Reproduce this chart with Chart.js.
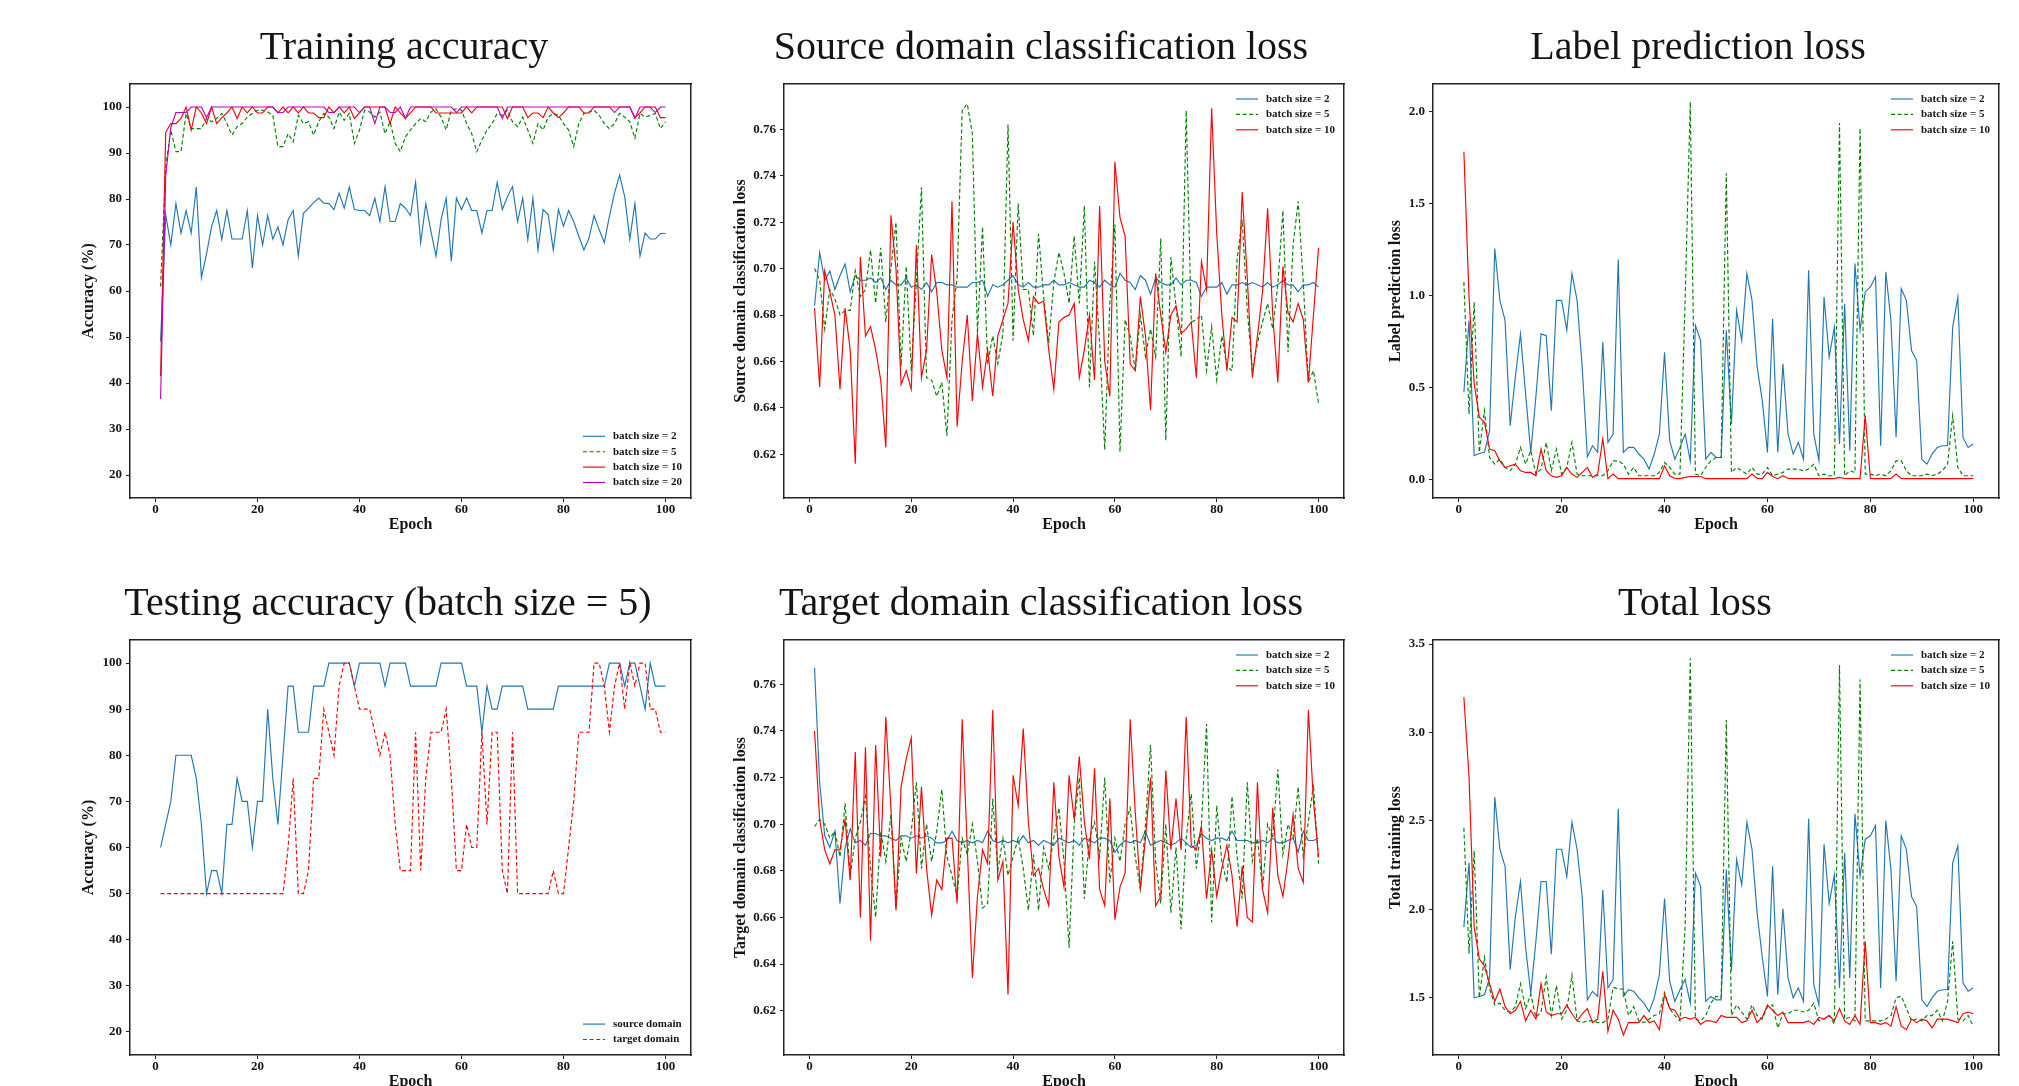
<!DOCTYPE html>
<html><head><meta charset="utf-8">
<script src="https://cdn.jsdelivr.net/npm/chart.js@4.4.0/dist/chart.umd.min.js"></script>
<style>
html,body{margin:0;padding:0;background:#fff;overflow:hidden;width:2019px;height:1086px;}
canvas{position:absolute;}
</style></head><body>
<canvas id="c1"></canvas><canvas id="c2"></canvas><canvas id="c3"></canvas>
<canvas id="c4"></canvas><canvas id="c5"></canvas><canvas id="c6"></canvas>
<script>
const EPOCHS = Array.from({length: 100}, (_, i) => i + 1);
const X_TICKS = [0, 20, 40, 60, 80, 100];
const ACC_TICKS = [20, 30, 40, 50, 60, 70, 80, 90, 100];
const DOM_TICKS = [0.62, 0.64, 0.66, 0.68, 0.70, 0.72, 0.74, 0.76];
const LP_TICKS = [0.0, 0.5, 1.0, 1.5, 2.0];
const TL_TICKS = [1.5, 2.0, 2.5, 3.0, 3.5];
const LABELS_BS = ['batch size = 2', 'batch size = 5', 'batch size = 10', 'batch size = 20'];
const LABELS_DOM = ['source domain', 'target domain'];

// Training accuracy
const TA_B2 = [49,76.6,70,79,72.6,77.5,72.6,82.6,62.9,68,
 74,77.5,71.2,77.5,71.3,71.3,71.3,77.5,65,76.4,
 70,76.4,71.3,73.9,70,75.5,77.5,67.6,76.9,78,
 79.2,80.2,79.1,79,77.7,81.3,78,82.6,77.7,77.5,
 77.5,76.4,80.2,75.1,82.6,75.1,75.1,79,78,76.4,
 83.6,70.5,79,73,67.6,75.5,80.2,66.5,80.2,77.7,
 80.2,77.5,77.5,72.6,77.5,77.5,83.6,77.7,80.5,82.7,
 75.1,80.2,71.2,80.2,68.9,77.7,76.6,68.9,77.7,74.1,
 77.5,75.1,71.9,68.9,71.5,76.4,73.3,70.5,76.2,81.3,
 85.2,80.5,71.3,79,67.6,72.6,71.3,71.3,72.5,72.5];
const TA_B5 = [61,87,95,90.3,90.3,98.6,95.3,95.3,95.3,97.5,
 96.8,97.5,98.6,96.4,93.9,95.7,96.4,97.8,98.6,99.3,
 99.3,98.9,98.2,91.4,91.4,94.2,92.4,98.2,96.4,96.8,
 93.9,96.8,98.6,97.8,95.3,98.9,97.1,98.6,92.1,95,
 99.3,98.9,97.8,98.9,94.2,96.8,92.1,90.3,93.5,95,
 96.4,97.5,96.8,98.9,99.6,97.8,95,99.3,99.6,99.3,
 96.4,94.2,90.3,92.8,95,96.4,98.6,98.2,99.3,96.8,
 95.7,97.8,95,92.1,96.4,95,97.8,98.6,98.2,96.4,
 95,91.4,96.4,98.6,98.9,99.3,98.2,96.4,95.3,96.4,
 98.6,97.8,96.8,93.2,98.6,97.8,98.2,98.6,95.3,96.8];
const TA_B10 = [41.5,94.5,96.4,96.4,97.5,100,95,100,98.7,96.4,
 100,96.4,97.7,98.7,100,97.5,100,98.7,100,98.7,
 98.7,100,100,98.7,100,98.7,100,98.7,100,98.7,
 98.7,97.7,97.7,100,98.7,100,98.7,100,97.5,98.7,
 100,100,100,100,100,96.4,100,98.7,97.5,98.7,
 100,100,100,100,98.7,98.7,98.7,98.7,98.7,98.7,
 100,98.7,100,100,100,100,100,100,97.5,100,
 100,100,97.7,98.7,98.7,97.7,100,98.7,97.7,98.7,
 100,100,100,98.7,98.7,100,100,100,100,100,
 100,100,100,97.7,98.7,100,100,100,97.7,97.7];
const TA_B20 = [36.5,85,95.5,98.8,98.8,98.8,100,100,100,97.7,
 100,100,100,100,100,100,100,100,100,100,
 100,100,100,98.8,98.8,100,100,100,100,100,
 100,100,100,98.8,98.8,100,100,100,100,98.8,
 100,100,96.4,100,100,98.8,98.8,100,97.5,100,
 100,100,100,100,100,100,100,100,98.8,100,
 100,100,100,100,100,100,100,97.5,100,100,
 100,100,100,100,100,100,100,100,100,100,
 100,100,100,100,100,100,100,100,100,98.8,
 100,100,100,97.5,100,100,100,98.8,100,100];

// Source domain classification loss
const SD_B2 = [0.684,0.707,0.695,0.699,0.691,0.697,0.702,0.690,0.697,0.695,
 0.695,0.696,0.694,0.696,0.691,0.695,0.693,0.693,0.696,0.692,
 0.693,0.691,0.694,0.690,0.694,0.694,0.693,0.693,0.692,0.692,
 0.692,0.694,0.694,0.695,0.688,0.693,0.692,0.693,0.695,0.697,
 0.693,0.692,0.694,0.692,0.692,0.693,0.693,0.695,0.693,0.693,
 0.694,0.693,0.692,0.692,0.695,0.694,0.692,0.695,0.693,0.692,
 0.698,0.695,0.694,0.691,0.697,0.695,0.689,0.696,0.694,0.693,
 0.693,0.696,0.693,0.695,0.695,0.694,0.688,0.692,0.692,0.692,
 0.694,0.689,0.693,0.693,0.694,0.693,0.694,0.693,0.692,0.694,
 0.692,0.693,0.695,0.693,0.693,0.690,0.693,0.693,0.694,0.692];
const SD_B5 = [0.700,0.695,0.674,0.691,0.687,0.680,0.682,0.682,0.699,0.688,
 0.691,0.708,0.685,0.709,0.677,0.700,0.720,0.658,0.701,0.656,
 0.694,0.735,0.653,0.652,0.645,0.651,0.628,0.678,0.696,0.768,
 0.771,0.758,0.672,0.718,0.659,0.671,0.659,0.672,0.762,0.669,
 0.728,0.691,0.691,0.671,0.715,0.688,0.668,0.694,0.707,0.698,
 0.685,0.714,0.685,0.727,0.649,0.703,0.668,0.622,0.685,0.719,
 0.621,0.678,0.671,0.656,0.680,0.662,0.674,0.662,0.713,0.626,
 0.705,0.684,0.662,0.768,0.677,0.678,0.680,0.656,0.675,0.652,
 0.671,0.658,0.656,0.704,0.721,0.682,0.656,0.668,0.677,0.685,
 0.674,0.693,0.725,0.664,0.710,0.729,0.694,0.651,0.656,0.642];
const SD_B10 = [0.683,0.649,0.699,0.690,0.680,0.648,0.683,0.665,0.616,0.705,
 0.671,0.675,0.665,0.652,0.623,0.723,0.700,0.650,0.656,0.648,
 0.710,0.653,0.665,0.706,0.690,0.665,0.653,0.729,0.632,0.660,
 0.680,0.643,0.672,0.649,0.665,0.645,0.671,0.678,0.685,0.720,
 0.691,0.678,0.669,0.688,0.685,0.686,0.665,0.648,0.677,0.679,
 0.680,0.685,0.653,0.665,0.680,0.652,0.727,0.660,0.645,0.746,
 0.722,0.714,0.659,0.656,0.688,0.671,0.639,0.698,0.680,0.664,
 0.680,0.684,0.672,0.674,0.677,0.653,0.703,0.691,0.769,0.715,
 0.680,0.656,0.679,0.677,0.733,0.696,0.653,0.671,0.690,0.726,
 0.680,0.651,0.701,0.681,0.677,0.685,0.678,0.651,0.680,0.709];

// Label prediction loss
const LP_B2 = [0.473,0.863,0.128,0.140,0.146,0.264,1.254,0.972,0.863,0.291,
 0.555,0.790,0.464,0.146,0.450,0.790,0.780,0.373,0.972,0.972,
 0.809,1.118,0.972,0.609,0.122,0.182,0.146,0.745,0.200,0.246,
 1.194,0.146,0.173,0.173,0.137,0.109,0.055,0.137,0.246,0.690,
 0.210,0.109,0.173,0.246,0.100,0.836,0.754,0.109,0.146,0.118,
 0.118,0.809,0.300,0.918,0.754,1.118,0.972,0.609,0.427,0.146,
 0.872,0.146,0.627,0.246,0.137,0.200,0.109,1.136,0.246,0.100,
 0.990,0.664,0.827,0.191,0.954,0.155,1.172,0.809,1.018,1.045,
 1.100,0.182,1.127,0.863,0.230,1.036,0.972,0.699,0.645,0.109,
 0.082,0.137,0.173,0.182,0.182,0.827,0.990,0.227,0.173,0.191];
const LP_B5 = [1.072,0.355,0.963,0.146,0.373,0.118,0.082,0.110,0.064,0.046,
 0.082,0.173,0.082,0.155,0.028,0.055,0.200,0.046,0.164,0.028,
 0.064,0.200,0.028,0.019,0.019,0.019,0.019,0.019,0.046,0.100,
 0.100,0.082,0.028,0.064,0.019,0.019,0.019,0.019,0.037,0.091,
 0.064,0.028,0.028,0.972,2.050,0.028,0.019,0.064,0.100,0.118,
 0.118,1.663,0.037,0.064,0.046,0.028,0.064,0.028,0.028,0.064,
 0.019,0.028,0.037,0.055,0.055,0.055,0.046,0.055,0.082,0.019,
 0.028,0.019,0.019,1.936,0.019,0.046,0.037,1.908,0.028,0.028,
 0.019,0.028,0.019,0.046,0.100,0.100,0.046,0.019,0.019,0.019,
 0.028,0.019,0.028,0.046,0.082,0.346,0.064,0.019,0.019,0.019];
const LP_B10 = [1.780,0.990,0.520,0.337,0.310,0.164,0.155,0.100,0.064,0.073,
 0.082,0.046,0.037,0.037,0.019,0.164,0.046,0.019,0.010,0.019,
 0.064,0.028,0.010,0.037,0.064,0.010,0.028,0.219,0.003,0.028,
 0.003,0.004,0.003,0.004,0.003,0.004,0.003,0.004,0.003,0.073,
 0.019,0.004,0.003,0.010,0.015,0.015,0.015,0.003,0.004,0.003,
 0.004,0.003,0.004,0.003,0.004,0.003,0.028,0.004,0.003,0.037,
 0.015,0.003,0.019,0.004,0.003,0.004,0.003,0.004,0.003,0.004,
 0.003,0.004,0.003,0.010,0.004,0.003,0.004,0.003,0.346,0.004,
 0.003,0.004,0.003,0.004,0.028,0.004,0.003,0.004,0.003,0.004,
 0.003,0.004,0.003,0.004,0.003,0.004,0.003,0.004,0.003,0.004];

// Testing accuracy (batch size = 5)
const TE_SRC = [60,65,70,80,80,80,80,75,65,50,
 55,55,50,65,65,75,70,70,60,70,
 70,90,75,65,80,95,95,85,85,85,
 95,95,95,100,100,100,100,100,95,100,
 100,100,100,100,95,100,100,100,100,95,
 95,95,95,95,95,100,100,100,100,100,
 95,95,95,85,95,90,90,95,95,95,
 95,95,90,90,90,90,90,90,95,95,
 95,95,95,95,95,95,95,95,100,100,
 100,95,100,100,95,90,100,95,95,95];
const TE_TGT = [50,50,50,50,50,50,50,50,50,50,
 50,50,50,50,50,50,50,50,50,50,
 50,50,50,50,50,60,75,50,50,55,
 75,75,90,85,80,95,100,100,95,90,
 90,90,85,80,85,80,65,55,55,55,
 85,55,75,85,85,85,90,75,55,55,
 65,60,60,85,65,85,85,55,50,85,
 50,50,50,50,50,50,50,55,50,50,
 60,70,85,85,85,100,100,95,85,95,
 100,90,100,95,100,100,90,90,85,85];

// Target domain classification loss
const TD_B2 = [0.767,0.718,0.695,0.690,0.697,0.666,0.690,0.698,0.692,0.693,
 0.691,0.696,0.696,0.695,0.695,0.694,0.693,0.695,0.695,0.694,
 0.695,0.694,0.695,0.694,0.692,0.692,0.693,0.697,0.693,0.692,
 0.693,0.692,0.693,0.692,0.697,0.693,0.692,0.693,0.692,0.693,
 0.692,0.695,0.692,0.693,0.691,0.693,0.692,0.691,0.694,0.693,
 0.692,0.693,0.691,0.694,0.693,0.692,0.694,0.694,0.693,0.688,
 0.691,0.693,0.692,0.693,0.692,0.697,0.691,0.692,0.693,0.692,
 0.691,0.692,0.694,0.692,0.690,0.691,0.696,0.694,0.693,0.694,
 0.694,0.693,0.697,0.693,0.693,0.693,0.692,0.692,0.693,0.692,
 0.694,0.692,0.692,0.693,0.694,0.688,0.697,0.693,0.693,0.694];
const TD_B5 = [0.699,0.702,0.700,0.694,0.697,0.686,0.709,0.678,0.694,0.701,
 0.712,0.681,0.660,0.697,0.684,0.704,0.664,0.694,0.684,0.697,
 0.718,0.681,0.700,0.684,0.697,0.715,0.686,0.678,0.669,0.694,
 0.687,0.700,0.684,0.664,0.666,0.711,0.680,0.694,0.678,0.686,
 0.694,0.681,0.663,0.687,0.663,0.690,0.681,0.694,0.707,0.684,
 0.647,0.700,0.720,0.668,0.694,0.701,0.686,0.720,0.675,0.694,
 0.684,0.700,0.707,0.686,0.672,0.700,0.734,0.684,0.666,0.700,
 0.662,0.690,0.655,0.694,0.713,0.681,0.700,0.743,0.658,0.708,
 0.684,0.675,0.712,0.686,0.668,0.718,0.684,0.694,0.672,0.700,
 0.694,0.7235,0.687,0.700,0.694,0.716,0.686,0.701,0.717,0.683];
const TD_B10 = [0.740,0.702,0.689,0.683,0.689,0.689,0.702,0.676,0.731,0.660,
 0.733,0.650,0.734,0.686,0.746,0.707,0.663,0.716,0.728,0.737,
 0.679,0.716,0.681,0.661,0.676,0.672,0.694,0.694,0.666,0.745,
 0.690,0.634,0.669,0.689,0.683,0.749,0.676,0.684,0.627,0.721,
 0.708,0.741,0.701,0.678,0.681,0.672,0.665,0.718,0.686,0.673,
 0.721,0.702,0.729,0.701,0.685,0.724,0.672,0.665,0.711,0.659,
 0.673,0.679,0.745,0.705,0.672,0.694,0.720,0.665,0.669,0.723,
 0.689,0.711,0.689,0.746,0.691,0.689,0.699,0.668,0.689,0.669,
 0.681,0.691,0.678,0.656,0.682,0.660,0.658,0.718,0.672,0.662,
 0.707,0.678,0.669,0.685,0.704,0.681,0.675,0.749,0.710,0.686];

// Total loss
const TL_B2 = [1.900,2.263,1.500,1.508,1.518,1.613,2.636,2.340,2.244,1.661,
 1.957,2.158,1.785,1.527,1.820,2.158,2.158,1.747,2.340,2.340,
 2.187,2.493,2.340,2.072,1.489,1.537,1.508,2.110,1.556,1.604,
 2.569,1.508,1.546,1.537,1.500,1.470,1.422,1.500,1.632,2.062,
 1.594,1.480,1.546,1.604,1.470,2.206,2.130,1.480,1.508,1.489,
 1.489,2.225,1.652,2.282,2.139,2.493,2.340,1.976,1.728,1.508,
 2.244,1.518,2.005,1.613,1.500,1.556,1.480,2.512,1.575,1.460,
 2.368,2.034,2.196,1.556,2.320,1.613,2.540,2.187,2.397,2.416,
 2.474,1.556,2.502,2.225,1.594,2.416,2.340,2.072,2.015,1.489,
 1.451,1.500,1.537,1.546,1.546,2.263,2.359,1.585,1.537,1.556];
const TL_B5 = [2.46,1.75,2.33,1.50,1.73,1.55,1.46,1.47,1.43,1.42,
 1.45,1.58,1.44,1.52,1.39,1.42,1.62,1.40,1.57,1.38,
 1.43,1.63,1.37,1.36,1.37,1.37,1.36,1.36,1.38,1.56,
 1.55,1.55,1.40,1.45,1.37,1.36,1.38,1.40,1.41,1.53,
 1.44,1.40,1.37,1.90,3.42,1.38,1.37,1.40,1.47,1.51,
 1.50,3.07,1.40,1.46,1.42,1.38,1.46,1.40,1.38,1.45,
 1.46,1.33,1.41,1.41,1.43,1.43,1.42,1.43,1.47,1.37,
 1.38,1.40,1.35,3.38,1.38,1.39,1.37,3.30,1.37,1.37,
 1.37,1.37,1.38,1.40,1.50,1.51,1.44,1.37,1.38,1.37,
 1.40,1.40,1.43,1.37,1.48,1.82,1.38,1.37,1.40,1.34];
const TL_B10 = [3.20,2.75,1.90,1.72,1.68,1.58,1.48,1.55,1.45,1.41,
 1.43,1.48,1.37,1.43,1.38,1.58,1.42,1.40,1.41,1.41,
 1.46,1.41,1.37,1.41,1.44,1.36,1.38,1.65,1.31,1.43,
 1.38,1.29,1.36,1.36,1.36,1.40,1.36,1.37,1.32,1.52,
 1.44,1.43,1.38,1.39,1.38,1.39,1.35,1.37,1.37,1.36,
 1.40,1.39,1.39,1.39,1.36,1.37,1.43,1.36,1.39,1.46,
 1.43,1.40,1.42,1.36,1.36,1.36,1.36,1.37,1.35,1.39,
 1.38,1.40,1.37,1.44,1.37,1.35,1.40,1.35,1.82,1.36,
 1.36,1.35,1.36,1.34,1.45,1.34,1.32,1.38,1.36,1.38,
 1.37,1.33,1.38,1.38,1.38,1.37,1.36,1.41,1.42,1.41];

const C_BLUE = '#1f77b4', C_GREEN = '#008000', C_RED = '#ff0000', C_MAG = '#bf00bf';
const SERIF = '"Liberation Serif", "Times New Roman", serif';
const INK = '#151515';
const DASH = [4, 2.6];

function ds(label, values, color, dashed, order) {
  return {
    label, data: values.map((v, i) => ({x: EPOCHS[i], y: v})),
    borderColor: color, backgroundColor: color, borderWidth: 1.15,
    borderDash: dashed ? DASH : [], pointRadius: 0, pointHoverRadius: 0,
    tension: 0, fill: false, order, xAxisID: 'x', yAxisID: 'y'
  };
}

const insideLegend = {
  id: 'insideLegend',
  afterDatasetsDraw(chart, args, opts) {
    const {ctx, chartArea: a} = chart;
    const list = chart.data.datasets;
    const n = list.length, step = 15.4;
    ctx.save();
    ctx.font = 'bold 11px ' + SERIF;
    ctx.textBaseline = 'middle';
    ctx.textAlign = 'left';
    list.forEach((d, i) => {
      const y = opts.where === 'top' ? a.top + 15 + i * step : a.bottom - 15.5 - (n - 1 - i) * step;
      const x0 = a.right - 108;
      ctx.beginPath();
      ctx.strokeStyle = d.borderColor;
      ctx.lineWidth = d.borderWidth;
      ctx.setLineDash(d.borderDash || []);
      ctx.moveTo(x0, y); ctx.lineTo(x0 + 22, y); ctx.stroke();
      ctx.setLineDash([]);
      ctx.fillStyle = INK;
      ctx.fillText(d.label, a.right - 78, y);
    });
    ctx.restore();
  }
};

function dummyAxis(position, size) {
  return {
    type: 'linear', position, display: true,
    ticks: {display: false}, title: {display: false},
    grid: {display: true, drawOnChartArea: false, drawTicks: false},
    border: {display: true, color: '#222', width: 1.5},
    afterFit: s => { if (position === 'top') s.height = size; else s.width = size; }
  };
}

function makeChart(id, p) {
  const cv = document.getElementById(id);
  cv.width = p.W; cv.height = p.H;
  cv.style.left = p.CL + 'px'; cv.style.top = p.CT + 'px';
  cv.style.width = p.W + 'px'; cv.style.height = p.H + 'px';
  const tickFont = {family: SERIF, size: 13, weight: 'bold', lineHeight: 1};
  const axisTitleFont = {family: SERIF, size: 16, weight: 'bold', lineHeight: 1.2};
  new Chart(cv, {
    type: 'line',
    data: {datasets: p.datasets},
    options: {
      responsive: false, animation: false, devicePixelRatio: 1,
      layout: {padding: 0},
      events: [],
      plugins: {
        legend: {display: false},
        tooltip: {enabled: false},
        title: {display: true, text: p.title, color: INK,
          font: {family: SERIF, size: 40, weight: 'normal', lineHeight: 1.2},
          padding: {top: 24, bottom: 12}},
        insideLegend: {where: p.legendWhere}
      },
      scales: {
        x: {
          type: 'linear', position: 'bottom', min: -5, max: 105, bounds: 'data',
          afterBuildTicks: s => { s.ticks = X_TICKS.map(v => ({value: v})); },
          afterFit: s => { s.height = p.Hx; },
          ticks: {autoSkip: false, maxRotation: 0, padding: 1, color: INK, font: tickFont,
            callback: v => String(v)},
          grid: {display: true, drawOnChartArea: false, drawTicks: true, tickLength: 4, tickWidth: 1, tickColor: '#222'},
          border: {display: true, color: '#222', width: 1.5},
          title: {display: true, text: 'Epoch', color: INK, font: axisTitleFont,
            padding: {top: 0, bottom: p.xTitlePad}}
        },
        y: {
          type: 'linear', position: 'left', min: p.ymin, max: p.ymax, bounds: 'data',
          afterBuildTicks: s => { s.ticks = p.yticks.map(v => ({value: v})); },
          afterFit: s => { s.width = p.Wy; },
          ticks: {autoSkip: false, padding: 4, color: INK, font: tickFont,
            callback: v => Number(v).toFixed(p.dec)},
          grid: {display: true, drawOnChartArea: false, drawTicks: true, tickLength: 4, tickWidth: 1, tickColor: '#222'},
          border: {display: true, color: '#222', width: 1.5},
          title: {display: true, text: p.ylabel, color: INK, font: axisTitleFont,
            padding: {top: 2.4, bottom: 0}}
        },
        x2: dummyAxis('top', 0),
        y2: dummyAxis('right', p.y2w)
      }
    },
    plugins: [insideLegend]
  });
}

const ROW1 = {CT: 0, H: 538, Hx: 40, xTitlePad: 4};
const ROW2 = {CT: 556, H: 539, Hx: 40, xTitlePad: 3.4};

makeChart('c1', Object.assign({}, ROW1, {
  CL: 77, W: 654, Wy: 53, y2w: 40,
  title: 'Training accuracy', ylabel: 'Accuracy (%)',
  ymin: 15, ymax: 105, yticks: ACC_TICKS, dec: 0, legendWhere: 'bottom',
  datasets: [
    ds(LABELS_BS[0], TA_B2, C_BLUE, false, 4),
    ds(LABELS_BS[1], TA_B5, C_GREEN, true, 3),
    ds(LABELS_BS[2], TA_B10, C_RED, false, 2),
    ds(LABELS_BS[3], TA_B20, C_MAG, false, 1)
  ]
}));

makeChart('c2', Object.assign({}, ROW1, {
  CL: 729, W: 624, Wy: 55, y2w: 9,
  title: 'Source domain classification loss', ylabel: 'Source domain classification loss',
  ymin: 0.6012, ymax: 0.7795, yticks: DOM_TICKS, dec: 2, legendWhere: 'top',
  datasets: [
    ds(LABELS_BS[0], SD_B2, C_BLUE, false, 3),
    ds(LABELS_BS[1], SD_B5, C_GREEN, true, 2),
    ds(LABELS_BS[2], SD_B10, C_RED, false, 1)
  ]
}));

makeChart('c3', Object.assign({}, ROW1, {
  CL: 1384, W: 628, Wy: 49, y2w: 13,
  title: 'Label prediction loss', ylabel: 'Label prediction loss',
  ymin: -0.102, ymax: 2.148, yticks: LP_TICKS, dec: 1, legendWhere: 'top',
  datasets: [
    ds(LABELS_BS[0], LP_B2, C_BLUE, false, 3),
    ds(LABELS_BS[1], LP_B5, C_GREEN, true, 2),
    ds(LABELS_BS[2], LP_B10, C_RED, false, 1)
  ]
}));

makeChart('c4', Object.assign({}, ROW2, {
  CL: 77, W: 622, Wy: 53, y2w: 8,
  title: 'Testing accuracy (batch size = 5)', ylabel: 'Accuracy (%)',
  ymin: 15, ymax: 105, yticks: ACC_TICKS, dec: 0, legendWhere: 'bottom',
  datasets: [
    ds(LABELS_DOM[0], TE_SRC, C_BLUE, false, 2),
    ds(LABELS_DOM[1], TE_TGT, C_RED, true, 1)
  ]
}));

makeChart('c5', Object.assign({}, ROW2, {
  CL: 729, W: 624, Wy: 55, y2w: 9,
  title: 'Target domain classification loss', ylabel: 'Target domain classification loss',
  ymin: 0.601, ymax: 0.779, yticks: DOM_TICKS, dec: 2, legendWhere: 'top',
  datasets: [
    ds(LABELS_BS[0], TD_B2, C_BLUE, false, 3),
    ds(LABELS_BS[1], TD_B5, C_GREEN, true, 2),
    ds(LABELS_BS[2], TD_B10, C_RED, false, 1)
  ]
}));

makeChart('c6', Object.assign({}, ROW2, {
  CL: 1384, W: 622, Wy: 49, y2w: 7,
  title: 'Total loss', ylabel: 'Total training loss',
  ymin: 1.177, ymax: 3.523, yticks: TL_TICKS, dec: 1, legendWhere: 'top',
  datasets: [
    ds(LABELS_BS[0], TL_B2, C_BLUE, false, 3),
    ds(LABELS_BS[1], TL_B5, C_GREEN, true, 2),
    ds(LABELS_BS[2], TL_B10, C_RED, false, 1)
  ]
}));
</script>
</body></html>
